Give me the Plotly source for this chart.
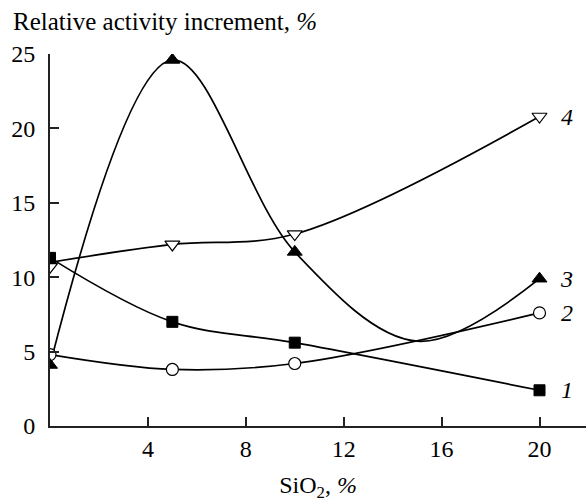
import plotly.graph_objects as go

# Data
sio2 = [0, 5, 10, 20]
s1 = [11.3, 7.0, 5.6, 2.4]   # filled squares, curve 1
s2 = [4.8, 3.8, 4.2, 7.6]    # open circles, curve 2
s3 = [4.1, 24.6, 11.7, 9.9]  # filled triangles, curve 3
s4 = [10.7, 12.2, 12.9, 20.8]  # open down-triangles, curve 4

# smooth path of curve 3 (incl. its dip)
c3_x = [0, 5, 10, 15, 20]
c3_y = [4.1, 24.6, 11.7, 5.7, 9.9]
# curve 4 line starts slightly above its first marker
c4_y = [11.0, 12.2, 12.9, 20.8]

x_ticks = [4, 8, 12, 16, 20]
y_ticks = [0, 5, 10, 15, 20, 25]
labels = ["1", "2", "3", "4"]
label_y = [2.4, 7.6, 9.9, 20.8]

FONT = "Liberation Serif, Times New Roman, Times, serif"

fig = go.Figure()
line = dict(color="black", width=1.7, shape="spline", smoothing=1.0)

fig.add_trace(go.Scatter(x=sio2, y=s1, mode="lines", line=line, hoverinfo="skip"))
fig.add_trace(go.Scatter(x=sio2, y=s2, mode="lines", line=line, hoverinfo="skip"))
fig.add_trace(go.Scatter(x=c3_x, y=c3_y, mode="lines", line=line, hoverinfo="skip"))
fig.add_trace(go.Scatter(x=sio2, y=c4_y, mode="lines", line=line, hoverinfo="skip"))

fig.add_trace(go.Scatter(x=sio2, y=s1, mode="markers",
                         marker=dict(symbol="square", size=11, color="black",
                                     line=dict(color="black", width=1))))
fig.add_trace(go.Scatter(x=sio2, y=s2, mode="markers",
                         marker=dict(symbol="circle", size=12, color="white",
                                     line=dict(color="black", width=1.2))))
fig.add_trace(go.Scatter(x=sio2, y=s3, mode="markers",
                         marker=dict(symbol="triangle-up", size=13, color="black",
                                     line=dict(color="black", width=1))))
fig.add_trace(go.Scatter(x=sio2, y=s4, mode="markers",
                         marker=dict(symbol="triangle-down", size=13, color="white",
                                     line=dict(color="black", width=1.2))))

for lab, ly in zip(labels, label_y):
    fig.add_annotation(x=20, y=ly, xref="x", yref="y", text="<i>" + lab + "</i>",
                       showarrow=False, xshift=27,
                       font=dict(family=FONT, size=24, color="black"),
                       xanchor="center", yanchor="middle")

fig.add_annotation(x=0, y=1, xref="paper", yref="paper", xanchor="left",
                   yanchor="bottom", yshift=17, xshift=-39,
                   text="Relative activity increment, <i>%</i>", showarrow=False,
                   font=dict(family=FONT, size=25, color="black"))

fig.update_layout(
    width=586, height=502,
    margin=dict(l=50, r=0, t=54, b=76),
    paper_bgcolor="white", plot_bgcolor="white",
    showlegend=False,
    font=dict(family=FONT, size=24, color="black"),
    xaxis=dict(range=[0, 21.9], tickvals=x_ticks, ticks="inside", ticklen=9,
               tickwidth=1.5, tickcolor="#222", showline=True, linecolor="#222",
               linewidth=1.8, showgrid=False, zeroline=False,
               title=dict(text="SiO<sub>2</sub>, <i>%</i>", standoff=16,
                          font=dict(family=FONT, size=24)),
               tickfont=dict(family=FONT, size=24)),
    yaxis=dict(range=[0, 25], tickvals=y_ticks, ticks="inside", ticklen=9,
               tickwidth=1.5, tickcolor="#222", showline=True, linecolor="#222",
               linewidth=1.8, showgrid=False, zeroline=False,
               ticklabelstandoff=8,
               tickfont=dict(family=FONT, size=24)),
)

fig.write_html("out.html")
